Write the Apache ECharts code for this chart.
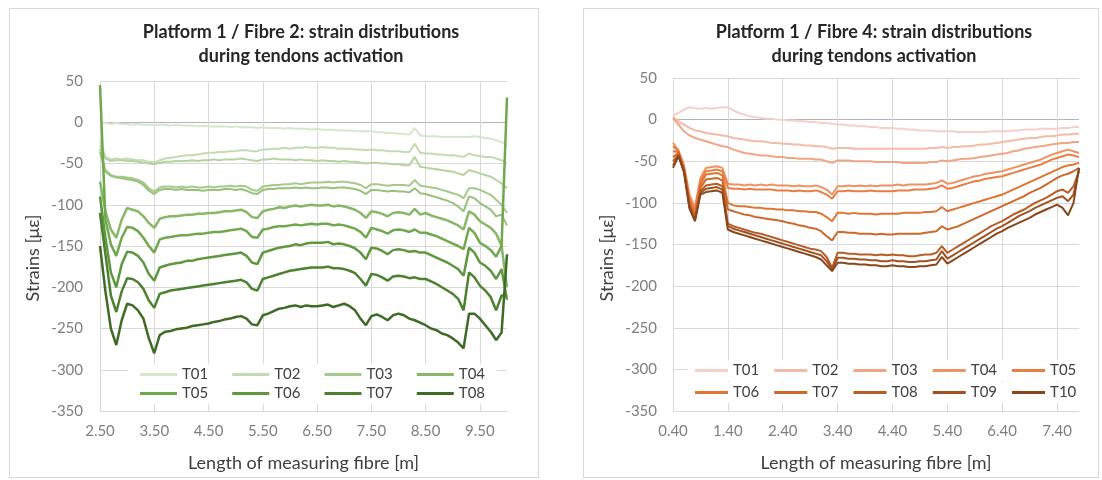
<!DOCTYPE html>
<html>
<head>
<meta charset="utf-8">
<script src="https://cdn.jsdelivr.net/npm/echarts@6/dist/echarts.min.js"></script>
<style>
  body { margin: 0; background: #fff; }
  .frame { position: absolute; top: 8px; height: 470px; border: 1px solid #d9d9d9; box-sizing: border-box; }
  #left { left: 9px; width: 530px; }
  #right { left: 583px; width: 516px; }
  .chart { width: 100%; height: 100%; }
</style>
</head>
<body>
<div class="frame" id="left"><div class="chart" id="c1"></div></div>
<div class="frame" id="right"><div class="chart" id="c2"></div></div>
<script>
// fibre positions [m], one point every 0.1 m
const fibre2X = [2.5,2.6,2.7,2.8,2.9,3.0,3.1,3.2,3.3,3.4,3.5,3.6,3.7,3.8,3.9,4.0,4.1,4.2,4.3,4.4,
  4.5,4.6,4.7,4.8,4.9,5.0,5.1,5.2,5.3,5.4,5.5,5.6,5.7,5.8,5.9,6.0,6.1,6.2,6.3,6.4,
  6.5,6.6,6.7,6.8,6.9,7.0,7.1,7.2,7.3,7.4,7.5,7.6,7.7,7.8,7.9,8.0,8.1,8.2,8.3,8.4,
  8.5,8.6,8.7,8.8,8.9,9.0,9.1,9.2,9.3,9.4,9.5,9.6,9.7,9.8,9.9,10.0];
const fibre4X = [0.4,0.5,0.6,0.7,0.8,0.9,1.0,1.1,1.2,1.3,1.4,1.5,1.6,1.7,1.8,1.9,2.0,2.1,2.2,2.3,
  2.4,2.5,2.6,2.7,2.8,2.9,3.0,3.1,3.2,3.3,3.4,3.5,3.6,3.7,3.8,3.9,4.0,4.1,4.2,4.3,
  4.4,4.5,4.6,4.7,4.8,4.9,5.0,5.1,5.2,5.3,5.4,5.5,5.6,5.7,5.8,5.9,6.0,6.1,6.2,6.3,
  6.4,6.5,6.6,6.7,6.8,6.9,7.0,7.1,7.2,7.3,7.4,7.5,7.6,7.7,7.8];

const strainTicks = [-350, 50, 50]; // min, max, step

// Platform 1 / Fibre 2 strains [µε]
const f2T01 = [0,-1,-2,-1,-2,-2,-3,-2,-3,-3, -3,-3,-3,-4,-3,-4,-4,-4,-5,-4, -5,-5,-5,-5,-6,-5,-6,-6,-6,-7,
  -6,-7,-7,-7,-8,-7,-8,-8,-8,-9, -8,-9,-9,-9,-10,-10,-10,-11,-11,-11, -11,-12,-12,-13,-13,-14,-14,-15,-7,-16,
  -17,-17,-17,-18,-18,-18,-18,-18,-18,-17, -18,-19,-20,-22,-24,-28];
const f2T02 = [-22,-42,-45,-44,-45,-44,-45,-46,-46,-48, -49,-46,-44,-43,-42,-41,-40,-40,-39,-38, -37,-37,-36,-36,-35,-35,-34,-34,-35,-35,
  -33,-33,-32,-32,-31,-32,-31,-31,-30,-31, -31,-30,-31,-31,-32,-32,-32,-33,-33,-34, -33,-34,-34,-35,-35,-35,-36,-36,-26,-37,
  -38,-38,-39,-39,-40,-40,-41,-42,-38,-40, -41,-42,-42,-44,-46,-50];
const f2T02b = [-28,-44,-47,-46,-46,-47,-47,-48,-49,-50, -51,-49,-48,-48,-47,-47,-47,-46,-47,-46, -46,-45,-46,-45,-45,-45,-44,-45,-46,-47,
  -45,-45,-44,-45,-45,-45,-46,-45,-46,-46, -47,-46,-47,-47,-48,-47,-48,-48,-49,-50, -49,-49,-50,-50,-51,-51,-52,-52,-42,-54,
  -55,-56,-57,-58,-59,-60,-62,-64,-58,-60, -62,-64,-66,-70,-74,-80];
const f2T03 = [-32,-58,-64,-66,-66,-67,-68,-70,-73,-80, -84,-79,-78,-78,-79,-78,-79,-78,-79,-79, -78,-79,-78,-78,-77,-78,-77,-78,-82,-83,
  -78,-77,-76,-76,-75,-75,-74,-75,-74,-73, -73,-73,-72,-73,-72,-72,-73,-74,-76,-80, -75,-75,-76,-77,-76,-76,-76,-77,-70,-77,
  -78,-79,-80,-82,-84,-86,-88,-92,-80,-80, -82,-85,-88,-94,-100,-110];
const f2T03b = [-36,-60,-65,-67,-68,-69,-70,-72,-76,-83, -87,-82,-81,-81,-82,-81,-82,-82,-82,-83, -82,-82,-82,-81,-81,-82,-81,-83,-86,-87,
  -82,-81,-81,-80,-80,-80,-79,-80,-79,-80, -80,-79,-79,-80,-79,-79,-80,-81,-83,-87, -82,-82,-83,-84,-83,-84,-84,-85,-80,-86,
  -87,-89,-91,-93,-95,-98,-102,-108,-90,-92, -98,-102,-106,-114,-112,-125];
const f2T04 = [-72,-108,-130,-140,-118,-104,-106,-108,-114,-122, -128,-117,-115,-114,-114,-113,-112,-112,-111,-111,
  -110,-110,-109,-108,-108,-107,-106,-109,-115,-116, -108,-106,-105,-103,-104,-102,-101,-102,-101,-100,
  -101,-101,-100,-102,-101,-102,-104,-106,-110,-116, -108,-109,-111,-114,-110,-109,-110,-112,-105,-112,
  -110,-113,-115,-117,-119,-122,-125,-130,-108,-112, -120,-124,-128,-135,-150,-200];
const f2T05 = [45,-118,-148,-162,-140,-127,-128,-132,-140,-150, -158,-142,-140,-139,-138,-137,-137,-136,-135,-135,
  -134,-133,-133,-132,-131,-130,-129,-132,-139,-140, -130,-129,-127,-126,-126,-125,-124,-125,-124,-123,
  -124,-123,-123,-125,-124,-125,-127,-129,-133,-140, -128,-130,-132,-135,-131,-130,-131,-133,-130,-134,
  -134,-136,-138,-141,-144,-147,-150,-154,-128,-134, -146,-150,-155,-163,-150,30];
const f2T06 = [-90,-140,-182,-200,-172,-157,-158,-162,-170,-184, -192,-176,-174,-172,-171,-170,-168,-168,-166,-165,
  -164,-163,-162,-161,-160,-159,-158,-162,-170,-172, -158,-156,-154,-152,-151,-150,-148,-149,-147,-146,
  -146,-146,-145,-148,-147,-148,-150,-153,-158,-166, -152,-153,-156,-160,-155,-154,-155,-157,-156,-158,
  -158,-161,-164,-167,-170,-174,-178,-186,-152,-158, -170,-174,-180,-190,-178,-215];
const f2T07 = [-110,-160,-210,-230,-205,-189,-190,-194,-202,-216, -225,-208,-206,-204,-203,-202,-201,-200,-199,-198,
  -197,-196,-195,-194,-193,-192,-191,-194,-202,-204, -190,-188,-186,-184,-182,-180,-179,-178,-177,-176,
  -176,-176,-175,-177,-177,-178,-180,-183,-190,-198, -184,-185,-188,-192,-187,-186,-187,-189,-188,-190,
  -190,-193,-196,-200,-204,-208,-214,-228,-182,-188, -198,-204,-212,-228,-210,-210];
const f2T08 = [-150,-205,-250,-270,-240,-220,-222,-228,-238,-262, -280,-258,-254,-253,-251,-250,-249,-247,-246,-245,
  -244,-242,-241,-239,-238,-236,-235,-238,-245,-246, -234,-232,-229,-226,-225,-223,-222,-224,-222,-223,
  -223,-222,-221,-224,-222,-220,-223,-228,-238,-246, -235,-233,-236,-240,-234,-232,-234,-238,-240,-243,
  -246,-250,-252,-256,-258,-262,-267,-274,-232,-232, -238,-246,-254,-264,-255,-160];

// Platform 1 / Fibre 4 strains [µε]
const f4T01 = [5,8,12,15,14,13,14,13,14,15, 15,11,8,6,4,3,2,1,1,0, 0,-1,-1,-2,-2,-3,-3,-4,-4,-5,
  -6,-6,-7,-7,-8,-8,-9,-9,-10,-10, -10,-11,-11,-12,-12,-13,-13,-13,-14,-14, -14,-14,-15,-15,-15,-15,-15,-15,-14,-14,
  -14,-14,-13,-13,-12,-12,-12,-11,-11,-11, -11,-10,-10,-9,-9];
const f4T02 = [3,-2,-6,-10,-13,-14,-16,-17,-18,-19, -20,-22,-23,-24,-25,-26,-26,-27,-28,-28, -29,-29,-30,-30,-31,-31,-32,-32,-33,-35,
  -34,-34,-34,-35,-35,-35,-35,-35,-35,-35, -35,-35,-35,-35,-35,-35,-35,-34,-34,-33, -34,-33,-33,-32,-32,-31,-30,-30,-29,-28,
  -27,-26,-25,-24,-23,-22,-22,-21,-20,-20, -19,-18,-18,-17,-17];
const f4T03 = [2,-6,-14,-19,-22,-24,-26,-28,-30,-32, -33,-36,-38,-40,-41,-42,-43,-43,-44,-45, -45,-46,-46,-47,-47,-47,-48,-48,-50,-52,
  -49,-49,-49,-50,-50,-50,-50,-51,-51,-51, -51,-51,-52,-52,-52,-52,-52,-51,-51,-49, -50,-49,-48,-47,-47,-46,-45,-44,-43,-42,
  -41,-40,-38,-37,-35,-34,-33,-32,-31,-30, -29,-28,-28,-27,-27];
const f4T04 = [-28,-37,-55,-90,-105,-70,-58,-57,-56,-58, -77,-78,-78,-79,-78,-79,-78,-79,-78,-79, -79,-79,-80,-79,-80,-80,-79,-81,-84,-90,
  -80,-80,-79,-80,-79,-80,-79,-80,-79,-79, -79,-78,-79,-78,-78,-78,-78,-77,-76,-73, -77,-76,-74,-72,-70,-68,-67,-65,-64,-63,
  -62,-60,-58,-56,-54,-52,-50,-48,-45,-42, -40,-38,-36,-38,-40];
const f4T05 = [-32,-38,-57,-95,-110,-74,-62,-61,-60,-62, -82,-83,-83,-84,-83,-84,-84,-84,-84,-85, -85,-85,-86,-85,-86,-86,-85,-87,-90,-95,
  -86,-86,-85,-86,-86,-86,-85,-86,-86,-86, -86,-85,-85,-85,-84,-84,-84,-83,-82,-79, -83,-82,-80,-78,-76,-74,-73,-71,-70,-69,
  -68,-66,-64,-62,-60,-58,-56,-54,-51,-48, -46,-44,-42,-43,-45];
const f4T06 = [-38,-39,-59,-98,-114,-78,-66,-65,-64,-67, -100,-103,-104,-104,-105,-106,-106,-107,-107,-108,
  -108,-109,-109,-110,-110,-111,-111,-113,-117,-122, -112,-112,-113,-112,-113,-113,-113,-114,-113,-113,
  -113,-113,-112,-112,-112,-112,-111,-111,-110,-105, -110,-108,-106,-104,-102,-100,-98,-96,-94,-92,
  -90,-87,-84,-81,-78,-75,-72,-69,-66,-63, -60,-57,-55,-54,-52];
const f4T07 = [-45,-40,-60,-100,-117,-82,-72,-71,-70,-73, -108,-110,-112,-114,-115,-117,-118,-119,-120,-121,
  -122,-124,-125,-127,-128,-130,-131,-134,-140,-145, -135,-135,-136,-136,-137,-137,-137,-138,-137,-138,
  -138,-137,-137,-137,-137,-137,-136,-135,-134,-128, -132,-130,-128,-125,-122,-119,-116,-113,-110,-107,
  -104,-101,-98,-95,-92,-88,-85,-82,-78,-74, -70,-67,-65,-62,-58];
const f4T08 = [-50,-42,-61,-103,-120,-86,-79,-78,-77,-80, -125,-128,-130,-132,-134,-136,-137,-139,-141,-143,
  -145,-147,-149,-151,-153,-155,-156,-158,-165,-178, -160,-160,-161,-161,-162,-162,-162,-163,-162,-163,
  -162,-163,-163,-164,-164,-163,-162,-162,-160,-152, -160,-156,-152,-148,-144,-140,-136,-132,-128,-125,
  -122,-118,-114,-111,-108,-104,-100,-97,-94,-90, -86,-84,-88,-80,-62];
const f4T09 = [-55,-43,-62,-105,-121,-88,-83,-82,-81,-84, -128,-131,-133,-135,-137,-139,-141,-143,-145,-147,
  -149,-151,-153,-155,-157,-159,-161,-163,-170,-180, -166,-166,-167,-167,-168,-168,-169,-169,-170,-170,
  -169,-170,-170,-171,-171,-170,-170,-169,-168,-158, -167,-163,-159,-155,-151,-147,-143,-139,-135,-131,
  -128,-124,-120,-116,-113,-110,-106,-103,-100,-97, -94,-92,-98,-90,-60];
const f4T10 = [-58,-44,-63,-107,-122,-90,-87,-86,-85,-88, -132,-135,-137,-139,-141,-143,-145,-147,-149,-151,
  -153,-155,-157,-159,-161,-163,-165,-168,-175,-182, -172,-172,-173,-173,-174,-174,-175,-175,-176,-176,
  -175,-176,-176,-177,-177,-176,-176,-175,-174,-165, -173,-169,-165,-161,-157,-153,-149,-145,-141,-137,
  -134,-130,-127,-124,-121,-118,-114,-111,-108,-105, -102,-106,-115,-100,-58];

const FONT = 'Lato, "Noto Sans", sans-serif';

function makeOption(cfg) {
  const gridColor = '#d9d9d9';
  const splitColors = [];
  for (let v = strainTicks[0]; v <= strainTicks[1]; v += strainTicks[2]) {
    splitColors.push(v === 0 ? '#b4b4b4' : gridColor);
  }
  const legendBase = {
    icon: 'rect',
    itemWidth: cfg.iconW, itemHeight: 3, itemGap: cfg.gap,
    padding: [3, cfg.pad, 3, cfg.pad],
    backgroundColor: '#fff',
    textStyle: { fontFamily: FONT, fontSize: 15, color: '#404040' },
    selectedMode: false,
  };
  return {
    animation: false,
    graphic: [
      { type: 'text', x: cfg.titleX, y: 11,
        style: { text: cfg.title, font: 'bold 18px ' + FONT, fill: '#262626',
                 align: 'center', verticalAlign: 'top', lineHeight: 24 } },
      { type: 'text', x: 23, y: 249, rotation: Math.PI / 2,
        style: { text: 'Strains [με]', font: '18px ' + FONT, fill: '#404040',
                 align: 'center', verticalAlign: 'middle' } },
    ],
    grid: { left: cfg.grid[0], top: cfg.grid[1], width: cfg.grid[2], height: cfg.grid[3] },
    xAxis: {
      type: 'category', data: cfg.x, boundaryGap: false,
      name: 'Length of measuring fibre [m]', nameLocation: 'middle', nameGap: 43,
      nameTextStyle: { fontFamily: FONT, fontSize: 18, color: '#404040' },
      axisLine: { show: false }, axisTick: { show: false },
      axisLabel: { interval: 9, margin: 13, fontFamily: FONT, fontSize: 15, color: '#7f7f7f',
                   formatter: (v) => parseFloat(v).toFixed(2) },
      splitLine: { show: true, interval: 9, lineStyle: { color: gridColor, width: 1 } },
    },
    yAxis: {
      type: 'value', min: strainTicks[0], max: strainTicks[1], interval: strainTicks[2],
      axisLine: { show: false }, axisTick: { show: false },
      axisLabel: { margin: cfg.yMargin, fontFamily: FONT, fontSize: 15, color: '#7f7f7f' },
      splitLine: { lineStyle: { color: splitColors, width: 1 } },
    },
    legend: cfg.legendRows.map((row, k) => Object.assign({}, legendBase, {
      data: row, left: cfg.legendLeft, top: cfg.legendTop[k],
    })),
    series: cfg.series.map((s) => ({
      name: s.name, type: 'line', data: s.data, symbol: 'none', silent: true,
      lineStyle: { width: s.width, color: s.color }, itemStyle: { color: s.color },
    })),
  };
}

const chart1 = echarts.init(document.getElementById('c1'));
chart1.setOption(makeOption({
  title: 'Platform 1 / Fibre 2: strain distributions\nduring tendons activation',
  titleX: 291,
  x: fibre2X,
  grid: [90, 72, 407, 331],
  yMargin: 17,
  iconW: 37, gap: 24, pad: 12,
  legendLeft: 118, legendTop: [355, 374],
  legendRows: [['T01', 'T02', 'T03', 'T04'], ['T05', 'T06', 'T07', 'T08']],
  series: [
    { name: 'T01', data: f2T01, color: '#d6e6cb', width: 2 },
    { name: 'T02', data: f2T02, color: '#c3dbb1', width: 2 },
    { name: 'T02b', data: f2T02b, color: '#b5d39d', width: 2 },
    { name: 'T03', data: f2T03, color: '#a5cb8a', width: 2 },
    { name: 'T03b', data: f2T03b, color: '#98c279', width: 2 },
    { name: 'T04', data: f2T04, color: '#86b865', width: 2.5 },
    { name: 'T05', data: f2T05, color: '#70a84d', width: 2.5 },
    { name: 'T06', data: f2T06, color: '#5e983c', width: 2.5 },
    { name: 'T07', data: f2T07, color: '#4c822f', width: 2.5 },
    { name: 'T08', data: f2T08, color: '#3e6b26', width: 2.5 },
  ],
}));

const chart2 = echarts.init(document.getElementById('c2'));
chart2.setOption(makeOption({
  title: 'Platform 1 / Fibre 4: strain distributions\nduring tendons activation',
  titleX: 290,
  x: fibre4X,
  grid: [89, 69, 406, 334],
  yMargin: 16,
  iconW: 33, gap: 15, pad: 7,
  legendLeft: 104, legendTop: [351, 373],
  legendRows: [['T01', 'T02', 'T03', 'T04', 'T05'], ['T06', 'T07', 'T08', 'T09', 'T10']],
  series: [
    { name: 'T01', data: f4T01, color: '#f6cfc9', width: 2 },
    { name: 'T02', data: f4T02, color: '#f4bba6', width: 2 },
    { name: 'T03', data: f4T03, color: '#f2a582', width: 2 },
    { name: 'T04', data: f4T04, color: '#ef9262', width: 2 },
    { name: 'T05', data: f4T05, color: '#ea7d42', width: 2 },
    { name: 'T06', data: f4T06, color: '#e07433', width: 2 },
    { name: 'T07', data: f4T07, color: '#cc692b', width: 2 },
    { name: 'T08', data: f4T08, color: '#b75d25', width: 2 },
    { name: 'T09', data: f4T09, color: '#a15220', width: 2 },
    { name: 'T10', data: f4T10, color: '#8a461b', width: 2 },
  ],
}));
</script>
</body>
</html>
